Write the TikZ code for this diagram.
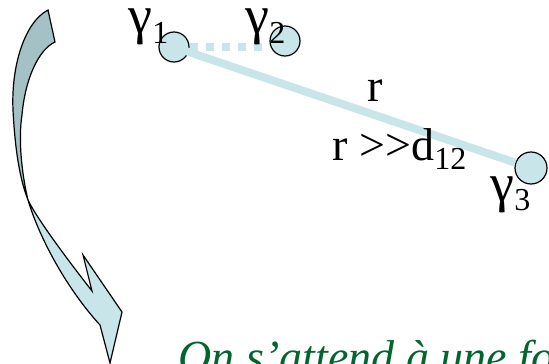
\documentclass[tikz,border=0pt]{standalone}
\usepackage{fontspec}
\setmainfont{Liberation Serif}
\definecolor{pale}{RGB}{200,230,234}
\definecolor{shade}{RGB}{164,193,197}
\definecolor{leaf}{RGB}{0,102,45}
\newcommand{\lowsub}[1]{\raisebox{-0.2em}{\fontsize{32}{34}\selectfont #1}}
\newcommand{\gam}{{\fontsize{54}{56}\selectfont γ}}

\begin{document}
\begin{tikzpicture}[x=1pt,y=-1pt,line width=1.2pt,
  ball/.style={circle,draw,fill=pale,minimum size=30pt,inner sep=0pt},
  lab/.style={anchor=base west,inner sep=0pt,font=\fontsize{46}{50}\selectfont},
  glab/.style={lab,text height=26pt}]
\useasboundingbox (0,0) rectangle (549,364);
\clip (0,0) rectangle (549,364);
% ---------- curved arrow ----------
\draw[fill=shade] (48,10) .. controls (25,22) and (11,65) .. (13,110)
  .. controls (15,150) and (20,180) .. (28,200)
  .. controls (22,175) and (18,140) .. (22,115)
  .. controls (25,80) and (38,50) .. (55,42) -- cycle;
\draw[fill=pale] (28,200) .. controls (40,240) and (68,290) .. (100,325)
  -- (110,363) -- (122,312) -- (83,255) -- (92,291)
  .. controls (60,250) and (35,215) .. (28,200) -- cycle;
% ---------- the three particles ----------
\node[ball] (c1) at (174,47) {};
\node[ball] (c2) at (285,41) {};
\node[ball,minimum size=32pt] (c3) at (531,168) {};
\draw[pale,line width=8pt] (c1.center) -- (c3);
\draw[pale,line width=8pt,dash pattern=on 8pt off 8pt] (c1.east) -- (c1 -| c2.west);
% ---------- labels ----------
\node[glab] (g1) at (128,34) {\gam\lowsub{1}};
\node[glab] (g2) at (245,34) {\gam\lowsub{2}};
\node[glab] (g3) at (490,201) {\gam\lowsub{3}};
\node[lab,anchor=base] (r) at (375,101) {r};
\node[lab] (rd) at (332,160) {r >{}>d\lowsub{12}};
\node[lab,text=leaf,font=\fontsize{46}{50}\selectfont\itshape] (msg) at (178,372) {On s’attend à une force};
\end{tikzpicture}
\end{document}
